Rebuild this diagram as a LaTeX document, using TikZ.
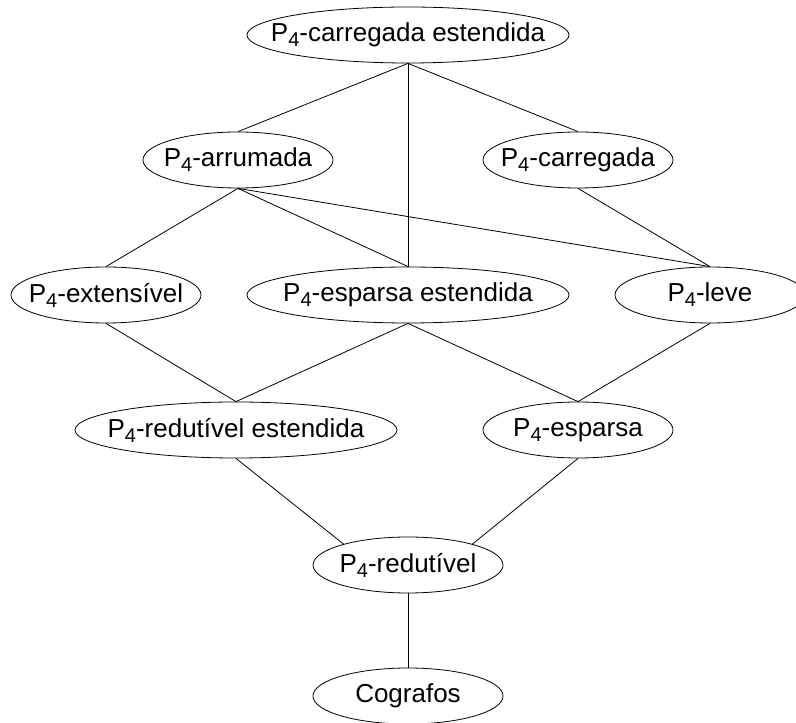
\documentclass[tikz,border=0pt]{standalone}
\usepackage{fontspec}
\setmainfont{Liberation Sans}
\usepackage{tikz}
\usetikzlibrary{shapes.geometric}
\usetikzlibrary{positioning}

\newcommand{\Pq}{P\raisebox{-5pt}{\fontsize{20}{20}\selectfont 4}}

\begin{document}
\begin{tikzpicture}[
            x = 1pt, y = 1pt,
            node distance = 135pt, % distance between rows
            line width = 0.8pt % line style
        ]

        \tikzstyle{classe}=[
            ellipse,
            draw,
            inner sep = 0pt,
            minimum width = 190pt,
            minimum height = 56pt,
            font = \fontsize{26}{30}\selectfont,
            % text box of zero width, so the ellipse keeps its size
            execute at begin node = {\hbox to 0pt\bgroup\hss},
            execute at end node = {\hss\egroup}
        ]
        \tikzstyle{classelarga}=[classe, minimum width = 322pt]

        \useasboundingbox (0,0) rectangle (796,723);

% top level
        \node[classelarga] (CE) at (408,688) {\Pq-carregada estendida};

        \node[classe] (AR) [below of = CE, xshift = -170pt, yshift = 10pt] {\Pq-arrumada};
        \node[classe] (CA) [right of = AR, node distance = 340pt] {\Pq-carregada};

        \path (CE.south) edge (AR.north);
        \path (CE.south) edge (CA.north);

        % middle level
        \node[classelarga] (EE) [below of = CE, node distance = 260pt] {\Pq-esparsa estendida};
        \node[classe] (EX) [left of = EE, node distance = 302pt] {\Pq-extens\'ivel};
        \node[classe] (LE) [right of = EE, node distance = 302pt] {\Pq-leve};

        \path (CE.south) edge (EE.north);
        \path (AR.south) edge (EX.north);
        \path (AR.south) edge (EE.north);
        \path (AR.south) edge (LE.north);
        \path (CA.south) edge (LE.north);

        % lower level
        \node[classelarga] (RE) [below of = EE, xshift = -172pt] {\Pq-redut\'ivel estendida};
        \node[classe] (ES) [below of = EE, xshift = 170pt] {\Pq-esparsa};

        \path (EX.south) edge (RE.north);
        \path (EE.south) edge (RE.north);
        \path (EE.south) edge (ES.north);
        \path (LE.south) edge (ES.north);

        % bottom
        \node[classe] (RD) [below of = EE, node distance = 270pt] {\Pq-redut\'ivel};
        \node[classe] (CG) [below of = RD, node distance = 131pt] {Cografos};

        \path (RE.south) edge (RD.162);
        \path (ES.south) edge (RD.18);
        \path (RD.south) edge (CG.north);

  \end{tikzpicture}
\end{document}
